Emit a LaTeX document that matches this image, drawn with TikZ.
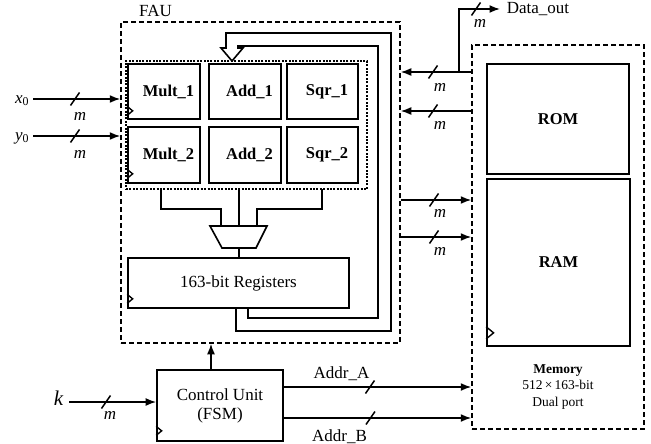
\documentclass[tikz,border=0pt]{standalone}
\usepackage{fontspec}
\setmainfont{Liberation Serif}
\usetikzlibrary{arrows.meta}
\begin{document}
\begin{tikzpicture}[x=1pt,y=-1pt,line width=1.6pt,
  every node/.style={inner sep=0pt},
  txt/.style={font=\fontsize{17}{19}\selectfont},
  blk/.style={draw,line width=1.7pt,minimum width=72pt,minimum height=55pt,font=\bfseries\fontsize{16.5}{19}\selectfont},
  box/.style={draw,line width=1.7pt},
  dashbox/.style={draw,line width=1.5pt,dash pattern=on 5pt off 3pt},
  dotbox/.style={draw,line width=1.5pt,dash pattern=on 2pt off 1.4pt},
  arr/.style={-{Latex[length=10.5pt,width=8pt]}},
  lbl/.style={font=\itshape\fontsize{17}{19}\selectfont},
  bus/.pic={\draw[-,line width=1.5pt] (-4.5,6.5) -- (4.5,-6.5);},
  clk/.pic={\draw[-,line width=1.4pt] (0,-4.5) -- (5.5,0) -- (0,4.5);}
]
\useasboundingbox (0,0) rectangle (651,444);

% ---------- FAU ----------
\node[dashbox,minimum width=279pt,minimum height=321pt] (fau) at (260.5,182.5) {};
\node[txt,anchor=base] (faulbl) at (155.5,17) {FAU};
\node[dotbox,minimum width=241pt,minimum height=128pt] (grid) at (246.5,125) {};

\node[blk] (m1) at (164,91.5) {\hspace*{9pt}Mult\_1};
\node[blk] (a1) at (245,91.5) {\hspace*{9pt}Add\_1};
\node[blk,minimum width=71pt] (s1) at (322.5,91.5) {\hspace*{9pt}Sqr\_1};
\node[blk,minimum height=56pt] (m2) at (164,155) {\hspace*{9pt}Mult\_2};
\node[blk,minimum height=56pt] (a2) at (245,155) {\hspace*{9pt}Add\_2};
\node[blk,minimum width=71pt,minimum height=56pt] (s2) at (322.5,155) {\hspace*{9pt}Sqr\_2};
\pic at ([yshift=9pt]m1.south west) {clk};
\pic at ([yshift=10pt]m2.south west) {clk};

% mux
\coordinate (mxtl) at (210,226);
\coordinate (mxtr) at (267,226);
\coordinate (mxbr) at (256,248);
\coordinate (mxbl) at (222,248);
\draw[line width=1.6pt] (mxtl) -- (mxtr) -- (mxbr) -- (mxbl) -- cycle;
\coordinate (mxt) at (239,226);
\coordinate (mxb) at (239,248);

% registers
\node[box,minimum width=221pt,minimum height=50pt,txt] (reg) at (238.5,283) {163-bit Registers};
\pic at ([yshift=10pt]reg.south west) {clk};

% block outputs to mux
\coordinate (gl) at (161,189);
\coordinate (gc) at (239,189);
\coordinate (gr) at (322,189);
\draw (gl) -- (161,209) -- (221,209) -- (221,226);
\draw (gc) -- (mxt);
\draw (gr) -- (322,209) -- (257,209) -- (257,226);
\draw (mxb) -- (reg.north -| mxb);

% feedback bus (hollow arrow)
\coordinate (fbo) at (236,308);
\coordinate (fbi) at (248,308);
\draw[line join=miter] (fbo) -- (236,331) -- (391,331) -- (391,33) -- (226,33) -- (226,48)
  -- (221,48) -- (232,61) -- (243,48) -- (238,48) -- (238,46) -- (378,46) -- (378,318) -- (fbi |- 0,318) -- (fbi);

% inputs x0, y0
\coordinate (x0s) at (33,99);
\coordinate (y0s) at (33,136);
\node[txt,anchor=base east] (x0l) at (30,103) {\textit{x}\textsubscript{0}};
\node[txt,anchor=base east] (y0l) at (30,140) {\textit{y}\textsubscript{0}};
\draw[arr] (x0s) -- (fau.west |- x0s);
\draw[arr] (y0s) -- (fau.west |- y0s);
\pic at (75,99) {bus};
\pic at (75,136) {bus};
\node[lbl,anchor=base] (mx) at (80,121) {m};
\node[lbl,anchor=base] (my) at (80,158) {m};

% ---------- Memory ----------
\node[dashbox,minimum width=172pt,minimum height=384pt] (mem) at (558,237) {};
\node[box,minimum width=142pt,minimum height=110pt,font=\bfseries\fontsize{16.5}{19}\selectfont] (rom) at (558,119) {ROM};
\node[box,minimum width=143pt,minimum height=167pt,font=\bfseries\fontsize{16.5}{19}\selectfont] (ram) at (558.5,262.5) {RAM};
\pic[scale=1.35] at ([yshift=14pt]ram.south west) {clk};
\node[align=center,font=\fontsize{13.5}{16.5}\selectfont] (memtxt) at (558,387) {\textbf{Memory}\\512\,×\,163-bit\\Dual port};

% memory <-> FAU buses
\coordinate (r1) at (0,72);
\coordinate (r2) at (0,111);
\coordinate (w1) at (0,200);
\coordinate (w2) at (0,237);
\draw[arr] (mem.west |- r1) -- (fau.east |- r1);
\draw[arr] (mem.west |- r2) -- (fau.east |- r2);
\draw[arr] (fau.east |- w1) -- (mem.west |- w1);
\draw[arr] (fau.east |- w2) -- (mem.west |- w2);
\pic at (433,72) {bus};
\pic at (433,111) {bus};
\pic at (434,200) {bus};
\pic at (434,237) {bus};
\node[lbl,anchor=base] (mr1) at (440,92) {m};
\node[lbl,anchor=base] (mr2) at (440,129) {m};
\node[lbl,anchor=base] (mw1) at (440,217) {m};
\node[lbl,anchor=base] (mw2) at (440,255) {m};

% Data_out
\coordinate (dob) at (459,72);
\coordinate (doe) at (500,9);
\draw[arr] (dob) -- (dob |- doe) -- (doe);
\node[txt,anchor=base west] (dol) at (506,14) {Data\_out};
\pic at (476,9) {bus};
\node[lbl,anchor=base] (mdo) at (480,28) {m};

% ---------- Control unit ----------
\node[box,minimum width=126pt,minimum height=71pt,txt,align=center] (cu) at (220,405.5) {Control Unit\\(FSM)};
\pic at ([yshift=11pt]cu.south west) {clk};
\coordinate (cuo) at ([xshift=-9pt]cu.north);
\draw[arr] (cuo) -- (fau.south -| cuo);

% k input
\coordinate (ks) at (69,402);
\node[anchor=base,font=\itshape\fontsize{21}{23}\selectfont] (kl) at (58.5,405) {k};
\draw[arr] (ks) -- (cu.west |- ks);
\pic at (106,402) {bus};
\node[lbl,anchor=base] (mk) at (110,419) {m};

% addresses
\coordinate (aa) at (0,387);
\coordinate (ab) at (0,418);
\draw[arr] (cu.east |- aa) -- (mem.west |- aa);
\draw[arr] (cu.east |- ab) -- (mem.west |- ab);
\pic at (370,387) {bus};
\pic at (370.5,418) {bus};
\node[txt,anchor=base] (aal) at (341.5,378) {Addr\_A};
\node[txt,anchor=base] (abl) at (339.5,441) {Addr\_B};
\end{tikzpicture}
\end{document}
